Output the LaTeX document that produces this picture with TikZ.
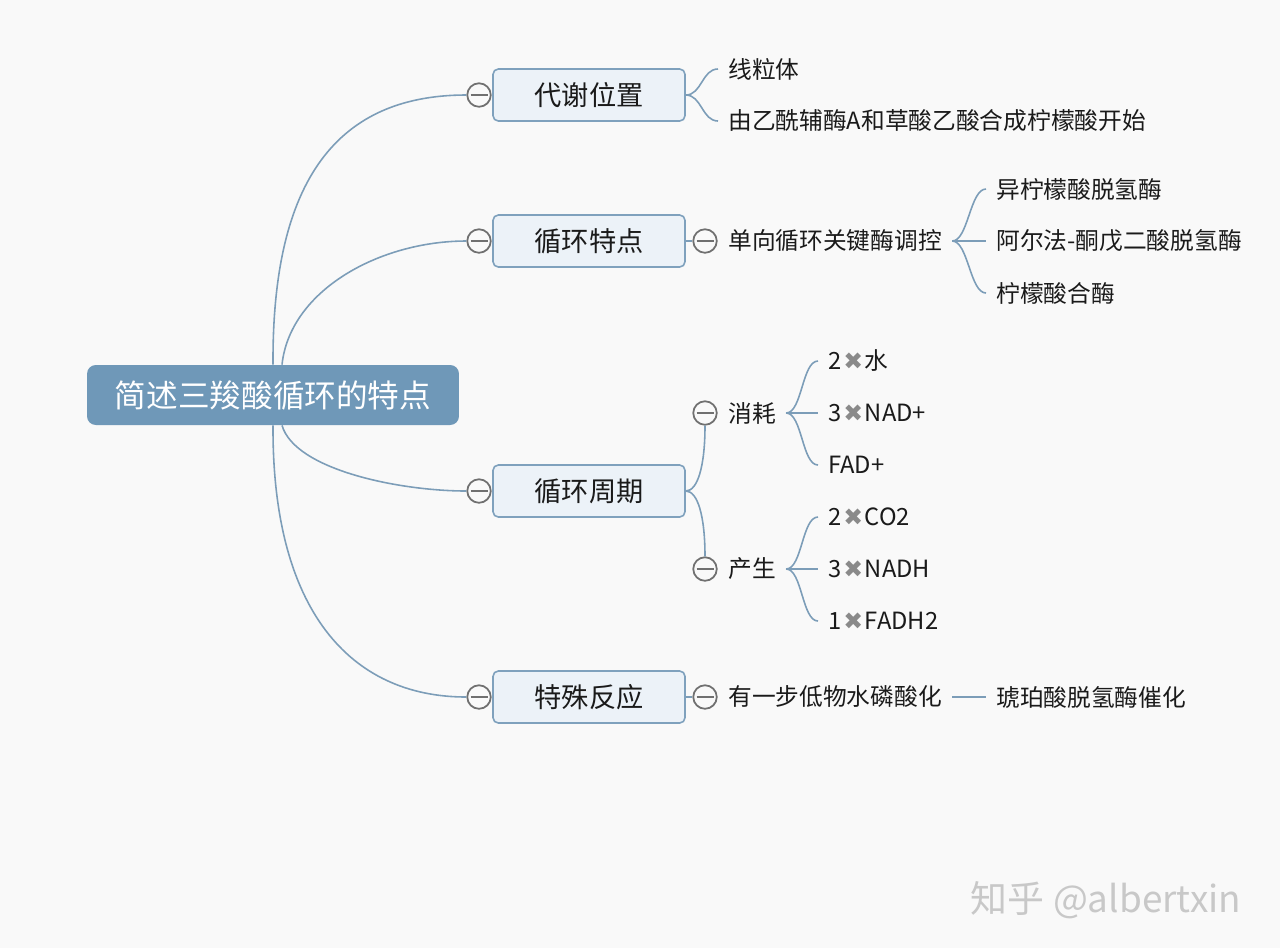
\documentclass[tikz,border=0pt]{standalone}
\usepackage{fontspec}
\setmainfont{Noto Sans CJK SC}
\newfontfamily\crossfont{DejaVu Sans}
\usepackage{tikz}
\usetikzlibrary{positioning,calc}

\definecolor{bgcol}{HTML}{F9F9F9}
\definecolor{rootcol}{HTML}{6F98B8}
\definecolor{linkcol}{HTML}{7C9DB8}
\definecolor{topicfill}{HTML}{ECF2F8}
\definecolor{topicdraw}{HTML}{7FA1BD}
\definecolor{knobcol}{HTML}{707070}
\definecolor{txtcol}{HTML}{1A1A1A}
\definecolor{markcol}{HTML}{8A8A8A}
\definecolor{wmcol}{HTML}{C8C8C8}

\newcommand{\tms}{\kern1pt{\crossfont\color{markcol}✖}\kern1pt}

\begin{document}
\begin{tikzpicture}[
  x=0.02cm, y=-0.02cm,
  root/.style={rectangle, rounded corners=5pt, fill=rootcol, text=white,
               minimum width=7.44cm, minimum height=1.2cm, font=\fontsize{18}{22}\selectfont},
  topic/.style={rectangle, rounded corners=3pt, draw=topicdraw, fill=topicfill, line width=0.9pt,
                minimum width=3.84cm, minimum height=1.04cm, text=txtcol, font=\fontsize{15.5}{19}\selectfont},
  knob/.style={circle, draw=knobcol, fill=bgcol, line width=1pt, minimum size=0.47cm, inner sep=0pt,
               path picture={\draw[knobcol, line width=1pt]
                 ([xshift=-0.17cm]path picture bounding box.center) -- ([xshift=0.17cm]path picture bounding box.center);}},
  leaf/.style={anchor=west, inner xsep=0.2cm, inner ysep=2pt, text=txtcol, font=\fontsize{13.5}{16}\selectfont},
  link/.style={draw=linkcol, line width=0.9pt},
]

% background and size
\fill[bgcol] (0,0) rectangle (1280,948);

% root
\node[root] (root) at (273,395) {简述三羧酸循环的特点};
\coordinate (rtop) at ([xshift=0.18cm]root.north);
\coordinate (rbot) at ([xshift=0.18cm]root.south);

% main topics
\node[knob]  (k1) at (479,95)  {};
\node[topic] (t1) at (589,95)  {代谢位置};
\node[knob]  (k2) at (479,241) {};
\node[topic] (t2) at (589,241) {循环特点};
\node[knob]  (k3) at (479,491) {};
\node[topic] (t3) at (589,491) {循环周期};
\node[knob]  (k4) at (479,697) {};
\node[topic] (t4) at (589,697) {特殊反应};

% root to topics
\draw[link] (root.north) .. controls (272,190) and (330,95) .. (k1.west);
\draw[link] (rtop) .. controls (290,290) and (380,241) .. (k2.west);
\draw[link] (rbot) .. controls (295,470) and (400,491) .. (k3.west);
\draw[link] (root.south) .. controls (272,610) and (350,697) .. (k4.west);

% 代谢位置
\node[leaf] (a1) at (718,69)  {线粒体};
\node[leaf] (a2) at (718,121) {由乙酰辅酶A和草酸乙酸合成柠檬酸开始};
\draw[link] (t1.east) .. controls +(16,0) and +(-16,0) .. (a1.west);
\draw[link] (t1.east) .. controls +(16,0) and +(-16,0) .. (a2.west);

% 循环特点
\node[knob] (k21) at (705,241) {};
\node[leaf] (b1) at (718,241) {单向循环关键酶调控};
\draw[link] (t2.east) -- (k21.west);
\node[leaf] (b11) at (986,189) {异柠檬酸脱氢酶};
\node[leaf] (b12) at (986,241) {阿尔法-酮戊二酸脱氢酶};
\node[leaf] (b13) at (986,293) {柠檬酸合酶};
\draw[link] (b1.east) .. controls +(16,0) and +(-16,0) .. (b11.west);
\draw[link] (b1.east) -- (b12.west);
\draw[link] (b1.east) .. controls +(16,0) and +(-16,0) .. (b13.west);

% 循环周期
\node[knob] (k31) at (705,413) {};
\node[leaf] (c1) at (718,413) {消耗};
\node[knob] (k32) at (705,569) {};
\node[leaf] (c2) at (718,569) {产生};
\draw[link] (t3.east) .. controls +(12,0) and +(0,40) .. (k31.south);
\draw[link] (t3.east) .. controls +(12,0) and +(0,-40) .. (k32.north);

\node[leaf] (c11) at (818,361) {2\tms 水};
\node[leaf] (c12) at (818,413) {3\tms NAD+};
\node[leaf] (c13) at (818,465) {FAD+};
\draw[link] (c1.east) .. controls +(16,0) and +(-16,0) .. (c11.west);
\draw[link] (c1.east) -- (c12.west);
\draw[link] (c1.east) .. controls +(16,0) and +(-16,0) .. (c13.west);

\node[leaf] (c21) at (818,517) {2\tms CO2};
\node[leaf] (c22) at (818,569) {3\tms NADH};
\node[leaf] (c23) at (818,621) {1\tms FADH2};
\draw[link] (c2.east) .. controls +(16,0) and +(-16,0) .. (c21.west);
\draw[link] (c2.east) -- (c22.west);
\draw[link] (c2.east) .. controls +(16,0) and +(-16,0) .. (c23.west);

% 特殊反应
\node[knob] (k41) at (705,697) {};
\node[leaf] (d1) at (718,697) {有一步低物水磷酸化};
\draw[link] (t4.east) -- (k41.west);
\node[leaf] (d11) at (986,697) {琥珀酸脱氢酶催化};
\draw[link] (d1.east) -- (d11.west);

% watermark
\node[text=wmcol, font=\fontsize{21}{25}\selectfont] (wm) at (1106,900) {知乎 @albertxin};

\end{tikzpicture}
\end{document}
